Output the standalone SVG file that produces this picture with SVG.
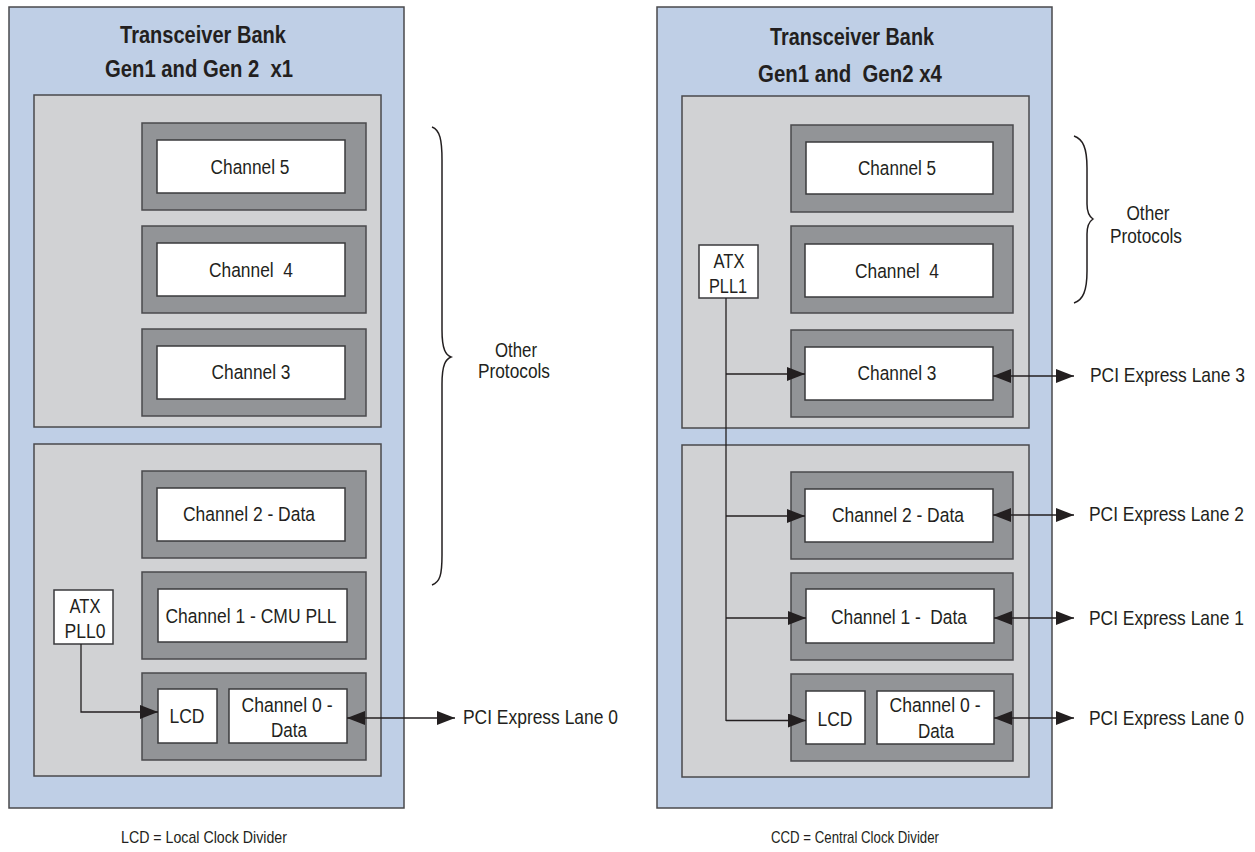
<svg xmlns="http://www.w3.org/2000/svg" width="1255" height="852" viewBox="0 0 1255 852">
<style>
.bank{fill:#bfcfe6;stroke:#4a4a4c;stroke-width:1.5}
.grp{fill:#d1d2d4;stroke:#4a4a4c;stroke-width:1.5}
.dark{fill:#929497;stroke:#4a4a4c;stroke-width:1.5}
.wht{fill:#ffffff;stroke:#3a3a3c;stroke-width:1.5}
.t{font-family:"Liberation Sans",Arial,sans-serif;font-size:20.5px;fill:#231f20;text-anchor:middle}
.tl{font-family:"Liberation Sans",Arial,sans-serif;font-size:20.5px;fill:#231f20}
.ti{font-family:"Liberation Sans",Arial,sans-serif;font-size:23.5px;font-weight:bold;fill:#231f20;text-anchor:middle}
.ft{font-family:"Liberation Sans",Arial,sans-serif;font-size:17px;fill:#231f20;text-anchor:middle}
.ln{fill:none;stroke:#231f20;stroke-width:1.3}
.br{fill:none;stroke:#231f20;stroke-width:1.5}
</style>
<defs>
<marker id="ah" markerUnits="userSpaceOnUse" markerWidth="18" markerHeight="14" refX="18" refY="7" orient="auto-start-reverse">
<path d="M0,0 L18,7 L0,14 Z" fill="#231f20"/>
</marker>
</defs>

<!-- Left bank -->
<g id="bank-left">
<rect class="bank" x="9" y="7" width="395" height="801"/>
<text class="ti" x="203" y="43" textLength="166" lengthAdjust="spacingAndGlyphs">Transceiver Bank</text>
<text class="ti" x="199" y="77" textLength="188" lengthAdjust="spacingAndGlyphs" xml:space="preserve">Gen1 and Gen 2  x1</text>
</g>
<g id="left-upper-group"><rect class="grp" x="34" y="95" width="347" height="332"/></g>
<g id="left-lower-group"><rect class="grp" x="34" y="444" width="347" height="332"/></g>

<g id="left-ch5">
<rect class="dark" x="142" y="123" width="224" height="87"/>
<rect class="wht" x="157" y="140" width="188" height="53"/>
<text class="t" x="250" y="174" textLength="79" lengthAdjust="spacingAndGlyphs">Channel 5</text>
</g>
<g id="left-ch4">
<rect class="dark" x="142" y="226" width="224" height="87"/>
<rect class="wht" x="157" y="243" width="188" height="53"/>
<text class="t" x="251" y="277" textLength="84" lengthAdjust="spacingAndGlyphs" xml:space="preserve">Channel  4</text>
</g>
<g id="left-ch3">
<rect class="dark" x="142" y="329" width="224" height="87"/>
<rect class="wht" x="157" y="346" width="188" height="53"/>
<text class="t" x="251" y="379" textLength="79" lengthAdjust="spacingAndGlyphs">Channel 3</text>
</g>
<g id="left-ch2">
<rect class="dark" x="142" y="471" width="224" height="87"/>
<rect class="wht" x="157" y="488" width="188" height="53"/>
<text class="t" x="249" y="521" textLength="132" lengthAdjust="spacingAndGlyphs">Channel 2 - Data</text>
</g>
<g id="left-ch1">
<rect class="dark" x="142" y="572" width="224" height="87"/>
<rect class="wht" x="158" y="589" width="189" height="53"/>
<text class="t" x="251" y="623" textLength="171" lengthAdjust="spacingAndGlyphs">Channel 1 - CMU PLL</text>
</g>
<g id="left-ch0">
<rect class="dark" x="142" y="673" width="224" height="87"/>
<rect class="wht" x="229" y="689" width="118" height="54"/>
<text class="t" x="287" y="712" textLength="91" lengthAdjust="spacingAndGlyphs">Channel 0 -</text>
<text class="t" x="289" y="737" textLength="36" lengthAdjust="spacingAndGlyphs">Data</text>
</g>
<g id="left-lcd">
<rect class="wht" x="158" y="689" width="59" height="54"/>
<text class="t" x="187" y="723" textLength="35" lengthAdjust="spacingAndGlyphs">LCD</text>
</g>
<g id="left-atx">
<rect class="wht" x="54" y="590" width="59" height="54"/>
<text class="t" x="85" y="613" textLength="31" lengthAdjust="spacingAndGlyphs">ATX</text>
<text class="t" x="85" y="638" textLength="41" lengthAdjust="spacingAndGlyphs">PLL0</text>
</g>
<g id="left-other">
<path class="br" d="M432,127 C440,130 442,140 442,160 L442,330 C442,350 446,355 451,357 C446,359 442,364 442,384 L442,555 C442,575 440,582 432,585"/>
<text class="t" x="516" y="357" textLength="42" lengthAdjust="spacingAndGlyphs">Other</text>
<text class="t" x="514" y="378" textLength="72" lengthAdjust="spacingAndGlyphs">Protocols</text>
</g>
<g id="left-lane0">
<text class="tl" transform="translate(463,724) scale(0.85,1)" x="0" y="0">PCI Express Lane 0</text>
</g>
<g id="left-note"><text class="ft" x="204" y="843" textLength="166" lengthAdjust="spacingAndGlyphs">LCD = Local Clock Divider</text></g>

<!-- Right bank -->
<g id="bank-right">
<rect class="bank" x="657" y="7" width="395" height="801"/>
<text class="ti" x="852" y="45" textLength="164" lengthAdjust="spacingAndGlyphs">Transceiver Bank</text>
<text class="ti" x="850" y="82" textLength="184" lengthAdjust="spacingAndGlyphs" xml:space="preserve">Gen1 and  Gen2 x4</text>
</g>
<g id="right-upper-group"><rect class="grp" x="682" y="96" width="347" height="332"/></g>
<g id="right-lower-group"><rect class="grp" x="682" y="445" width="347" height="332"/></g>

<g id="right-ch5">
<rect class="dark" x="791" y="125" width="222" height="87"/>
<rect class="wht" x="806" y="142" width="187" height="52"/>
<text class="t" x="897" y="175" textLength="78" lengthAdjust="spacingAndGlyphs">Channel 5</text>
</g>
<g id="right-ch4">
<rect class="dark" x="791" y="226" width="222" height="87"/>
<rect class="wht" x="805" y="244" width="188" height="53"/>
<text class="t" x="897" y="278" textLength="84" lengthAdjust="spacingAndGlyphs" xml:space="preserve">Channel  4</text>
</g>
<g id="right-ch3">
<rect class="dark" x="791" y="330" width="222" height="87"/>
<rect class="wht" x="805" y="347" width="188" height="53"/>
<text class="t" x="897" y="380" textLength="79" lengthAdjust="spacingAndGlyphs">Channel 3</text>
</g>
<g id="right-ch2">
<rect class="dark" x="791" y="472" width="222" height="87"/>
<rect class="wht" x="805" y="489" width="188" height="53"/>
<text class="t" x="898" y="522" textLength="132" lengthAdjust="spacingAndGlyphs">Channel 2 - Data</text>
</g>
<g id="right-ch1">
<rect class="dark" x="791" y="573" width="222" height="87"/>
<rect class="wht" x="806" y="589" width="188" height="54"/>
<text class="t" x="899" y="624" textLength="136" lengthAdjust="spacingAndGlyphs" xml:space="preserve">Channel 1 -  Data</text>
</g>
<g id="right-ch0">
<rect class="dark" x="791" y="674" width="222" height="87"/>
<rect class="wht" x="877" y="691" width="117" height="53"/>
<text class="t" x="935" y="712" textLength="91" lengthAdjust="spacingAndGlyphs">Channel 0 -</text>
<text class="t" x="936" y="738" textLength="36" lengthAdjust="spacingAndGlyphs">Data</text>
</g>
<g id="right-lcd">
<rect class="wht" x="806" y="691" width="59" height="53"/>
<text class="t" x="835" y="726" textLength="35" lengthAdjust="spacingAndGlyphs">LCD</text>
</g>
<g id="right-atx">
<rect class="wht" x="699" y="245" width="59" height="53"/>
<text class="t" x="729" y="268" textLength="31" lengthAdjust="spacingAndGlyphs">ATX</text>
<text class="t" x="728" y="293" textLength="38" lengthAdjust="spacingAndGlyphs">PLL1</text>
</g>
<g id="right-other">
<path class="br" d="M1074,136 C1083,139 1087,148 1087,168 L1087,204 C1087,213 1090,217 1093,219 C1090,221 1087,225 1087,234 L1087,271 C1087,291 1083,300 1074,303"/>
<text class="t" x="1148" y="220" textLength="43" lengthAdjust="spacingAndGlyphs">Other</text>
<text class="t" x="1146" y="243" textLength="72" lengthAdjust="spacingAndGlyphs">Protocols</text>
</g>
<g id="right-lanes">
<text class="tl" transform="translate(1090,382) scale(0.85,1)" x="0" y="0">PCI Express Lane 3</text>
<text class="tl" transform="translate(1089,521) scale(0.85,1)" x="0" y="0">PCI Express Lane 2</text>
<text class="tl" transform="translate(1089,625) scale(0.85,1)" x="0" y="0">PCI Express Lane 1</text>
<text class="tl" transform="translate(1089,725) scale(0.85,1)" x="0" y="0">PCI Express Lane 0</text>
</g>
<g id="right-note"><text class="ft" x="855" y="843" textLength="168" lengthAdjust="spacingAndGlyphs">CCD = Central Clock Divider</text></g>

<!-- Connectors -->
<g id="connectors">
<path class="ln" d="M81,644 L81,712 L158,712" marker-end="url(#ah)"/>
<path class="ln" d="M347,718 L455,718" marker-start="url(#ah)" marker-end="url(#ah)"/>
<path class="ln" d="M726,298 L726,721"/>
<path class="ln" d="M726,374 L805,374" marker-end="url(#ah)"/>
<path class="ln" d="M726,516 L805,516" marker-end="url(#ah)"/>
<path class="ln" d="M726,618 L806,618" marker-end="url(#ah)"/>
<path class="ln" d="M726,720.5 L806,720.5" marker-end="url(#ah)"/>
<path class="ln" d="M993,376 L1074,376" marker-start="url(#ah)" marker-end="url(#ah)"/>
<path class="ln" d="M993,515 L1074,515" marker-start="url(#ah)" marker-end="url(#ah)"/>
<path class="ln" d="M994,618 L1074,618" marker-start="url(#ah)" marker-end="url(#ah)"/>
<path class="ln" d="M994,718 L1074,718" marker-start="url(#ah)" marker-end="url(#ah)"/>
</g>
</svg>
